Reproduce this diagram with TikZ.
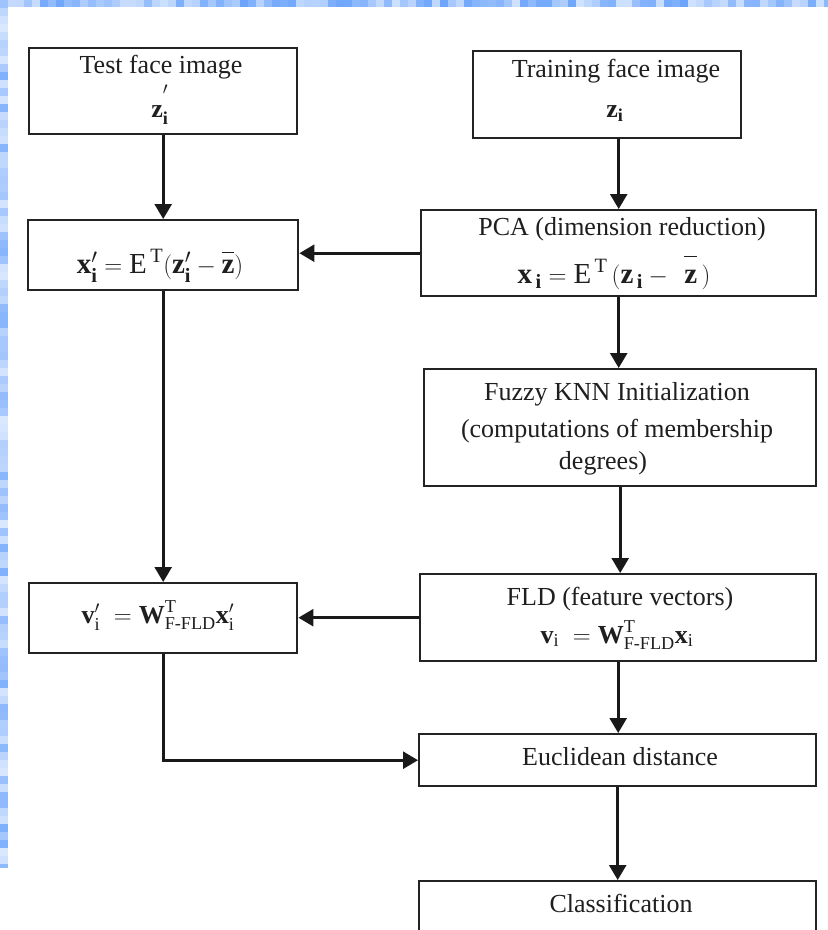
\documentclass[tikz,border=0pt]{standalone}
\usepackage{fontspec}
\setmainfont{Liberation Serif}
\usepackage{amsmath}
\usetikzlibrary{arrows.meta}
\definecolor{bgblue}{RGB}{70,140,250}
\definecolor{edge}{RGB}{35,35,35}
\tikzset{
  box/.style={draw=edge, line width=2.4pt, rectangle, inner sep=0pt, anchor=north west},
  lbl/.style={font=\fontsize{26}{36}\selectfont, inner sep=0pt, anchor=base, text=black!88},
  biglbl/.style={lbl, font=\fontsize{29}{36}\selectfont},
  flow/.style={draw=black!90, line width=2.6pt, -{Triangle[width=17pt,length=15pt]}}
}
\begin{document}
\begin{tikzpicture}[x=1pt,y=-1pt]
\useasboundingbox (0,0) rectangle (828,930);
\begin{scope}
\clip (0,0) rectangle (828,930);
\fill[white] (0,0) rectangle (828,930);
% slide background strips
\pgfmathsetseed{7}
\foreach \i in {0,...,103}{
  \pgfmathsetmacro{\r}{int(25+55*rnd)}
  \fill[bgblue!\r!white] (\i*8,0) rectangle ++(8,7);
}
\foreach \j in {0,...,108}{
  \pgfmathsetmacro{\r}{int(20+50*rnd)}
  \fill[bgblue!\r!white] (0,\j*8) rectangle ++(8,8);
}
\fill[white] (8,7) rectangle (828,930);
\fill[white] (0,868) rectangle (8,930);

% boxes
\node[box, minimum width=268pt, minimum height=86pt]  (test)  at (28,47)   {};
\node[box, minimum width=268pt, minimum height=87pt]  (train) at (472,50)  {};
\node[box, minimum width=270pt, minimum height=70pt]  (xp)    at (27,219)  {};
\node[box, minimum width=395pt, minimum height=86pt]  (pca)   at (420,209) {};
\node[box, minimum width=392pt, minimum height=117pt] (fuzzy) at (423,368) {};
\node[box, minimum width=268pt, minimum height=70pt]  (vp)    at (28,582)  {};
\node[box, minimum width=396pt, minimum height=87pt]  (fld)   at (419,573) {};
\node[box, minimum width=397pt, minimum height=52pt]  (eucl)  at (418,733) {};
\node[box, minimum width=397pt, minimum height=70pt]  (cls)   at (418,880) {};

% texts
\node[lbl] (t1)  at (161,73)  {Test face image};
\node[lbl] (t1b) at (160,117) {$\textbf{z}_{\textbf{i}}^{\raisebox{0.5em}{$\scriptstyle\prime$}}$};
\node[lbl] (t2)  at (616,77)  {Training face image};
\node[lbl] (t2b) at (615,117) {$\textbf{z}_{\textbf{i}}$};
\node[biglbl] (xpf) at (160,273) {$\textbf{x}^{\prime}_{\textbf{i}} = \text{E}^{\,\text{T}}(\textbf{z}^{\prime}_{\textbf{i}} - \overline{\vphantom{E}\textbf{z}})$};
\node[lbl] (pcat) at (622,235) {PCA (dimension reduction)};
\node[biglbl] (pcaf) at (614,283) {$\textbf{x}_{\,\textbf{i}} = \text{E}^{\,\text{T}}\,(\textbf{z}_{\,\textbf{i}} -\;\, \overline{\vphantom{E^{T}}\textbf{z}}\,)$};
\node[lbl] (fz1) at (617,400) {Fuzzy KNN Initialization};
\node[lbl] (fz2) at (617,437) {(computations of membership};
\node[lbl] (fz3) at (603,469) {degrees)};
\node[lbl] (vpf) at (158,623) {$\textbf{v}^{\prime}_{\text{i}} \;= \textbf{W}^{\text{T}}_{\text{F-FLD}}\textbf{x}^{\prime}_{\text{i}}$};
\node[lbl] (fldt) at (620,605) {FLD (feature vectors)};
\node[lbl] (fldf) at (617,643) {$\textbf{v}_{\text{i}} \;= \textbf{W}^{\text{T}}_{\text{F-FLD}}\textbf{x}_{\text{i}}$};
\node[lbl] (eut) at (620,765) {Euclidean distance};
\node[lbl] (clt) at (621,912) {Classification};

% connectors
\draw[flow] (test.south) -- (xp.north);
\draw[flow] (train.south -| pca.north) -- (pca.north);
\draw[flow] (pca.west) -- (pca.west -| xp.east);
\draw[flow] (pca.south) -- (fuzzy.north -| pca.south);
\draw[flow] (xp.south) -- (vp.north);
\draw[flow] (fuzzy.south) -- (fld.north -| fuzzy.south);
\draw[flow] (fld.west) -- (fld.west -| vp.east);
\draw[flow] (fld.south) -- (eucl.north -| fld.south);
\draw[flow] (vp.south) |- (eucl.west);
\draw[flow] (eucl.south) -- (cls.north -| eucl.south);
\end{scope}
\end{tikzpicture}
\end{document}
